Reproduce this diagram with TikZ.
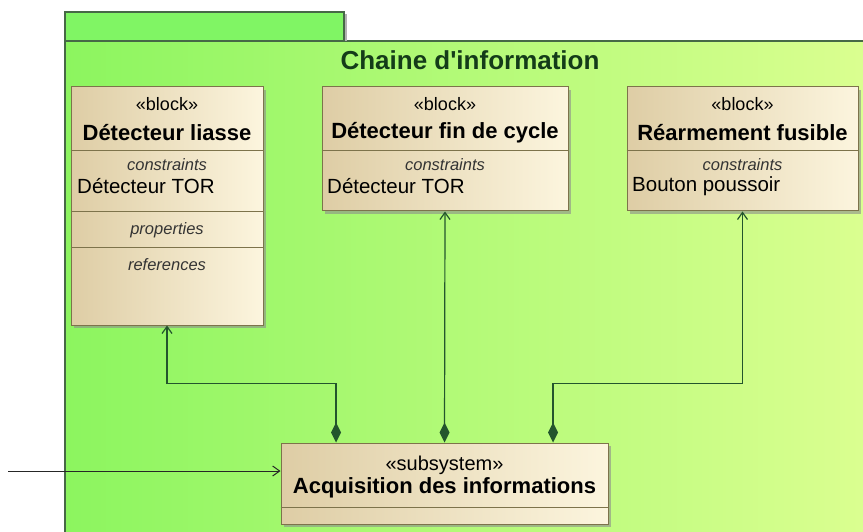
\documentclass[tikz,border=0pt]{standalone}
\usepackage{fontspec}
\setmainfont{Liberation Sans}
\usepackage{tikz}
\usetikzlibrary{arrows.meta,shadows}
\definecolor{pkgline}{RGB}{70,105,70}
\definecolor{pkgleft}{RGB}{140,245,95}
\definecolor{pkgright}{RGB}{220,255,145}
\definecolor{tabgreen}{RGB}{128,245,100}
\definecolor{blockline}{RGB}{125,115,75}
\definecolor{blockleft}{RGB}{222,205,165}
\definecolor{blockright}{RGB}{252,245,222}
\definecolor{linkgreen}{RGB}{35,85,45}
\definecolor{titlegreen}{RGB}{20,60,25}
\def\blocknode{\node[draw=blockline,line width=1pt,left color=blockleft,right color=blockright,inner sep=0pt,drop shadow={shadow xshift=3pt,shadow yshift=-3pt,fill=black!45,opacity=.6}]}
\def\stereo{\node[font=\fontsize{18}{20}\selectfont]}
\def\bname{\node[font=\fontsize{22}{24}\selectfont\bfseries]}
\def\compart{\node[font=\fontsize{16.5}{18}\selectfont\itshape,text=black!80,inner sep=0pt]}
\def\valnode{\node[font=\fontsize{20.5}{22}\selectfont,anchor=west,inner sep=0pt]}

\begin{document}
\begin{tikzpicture}[x=1pt,y=-1pt,
  link/.style={draw=linkgreen,line width=1.2pt,{Diamond[length=20pt,width=10pt,fill=linkgreen]}-{Straight Barb[length=7pt,width=10pt]}},
  sep/.style={draw=blockline,line width=1pt}]
\clip (0,0) rectangle (863,532);
\fill[white] (0,0) rectangle (863,532);
\shade[left color=pkgleft,right color=pkgright] (65,41) rectangle (880,545);
\draw[pkgline,line width=1.2pt] (65,545) -- (65,41) -- (880,41);
\fill[black!30] (344,14) rectangle (347,41);
\filldraw[fill=tabgreen,draw=pkgline,line width=1.2pt] (65,41) rectangle (344,12);
\node[font=\fontsize{26}{28}\selectfont\bfseries,text=titlegreen] (title) at (470,60) {Chaine d\textquotesingle information};

\blocknode[minimum width=192pt,minimum height=238pt] (liasse) at (167,206) {};
\blocknode[minimum width=246pt,minimum height=124pt] (fincycle) at (445,149) {};
\blocknode[minimum width=231pt,minimum height=124pt] (rearm) at (742.5,149) {};
\blocknode[minimum width=327pt,minimum height=81pt] (acq) at (444.5,483.5) {};
\foreach \n/\y in {liasse/151,liasse/212,liasse/248,fincycle/151,rearm/151,acq/507}
  \draw[sep] (\n.west |- 0,\y) -- (\n.east |- 0,\y);

\stereo (liasse-st) at (167,104) {«block»};
\bname (liasse-nm) at (167,133) {Détecteur liasse};
\compart (liasse-c) at (167,165) {constraints};
\valnode (liasse-v) at (77,186) {Détecteur TOR};
\compart (liasse-p) at (167,230) {properties};
\compart (liasse-r) at (167,265) {references};

\stereo (fincycle-st) at (445,104) {«block»};
\bname (fincycle-nm) at (445,133) {Détecteur fin de cycle};
\compart (fincycle-c) at (445,165) {constraints};
\valnode (fincycle-v) at (327,186) {Détecteur TOR};

\stereo (rearm-st) at (742.5,104) {«block»};
\bname (rearm-nm) at (742.5,133) {Réarmement fusible};
\compart (rearm-c) at (742.5,165) {constraints};
\valnode (rearm-v) at (632,186) {Bouton poussoir};

\stereo[font=\fontsize{20}{22}\selectfont] (acq-st) at (444.5,465) {«subsystem»};
\bname (acq-nm) at (444.5,488) {Acquisition des informations};

\draw[link] ([xshift=-108.5pt]acq.north) |- ([yshift=-58pt]liasse.south) -- (liasse.south);
\draw[link] (acq.north) -- (fincycle.south);
\draw[link] ([xshift=108.5pt]acq.north) |- ([yshift=-172pt]rearm.south) -- (rearm.south);
\coordinate (entree) at (8,471);
\draw[line width=1pt,black!85,-{Straight Barb[length=7pt,width=10pt]}] (entree) -- (entree -| acq.west);
\end{tikzpicture}
\end{document}
